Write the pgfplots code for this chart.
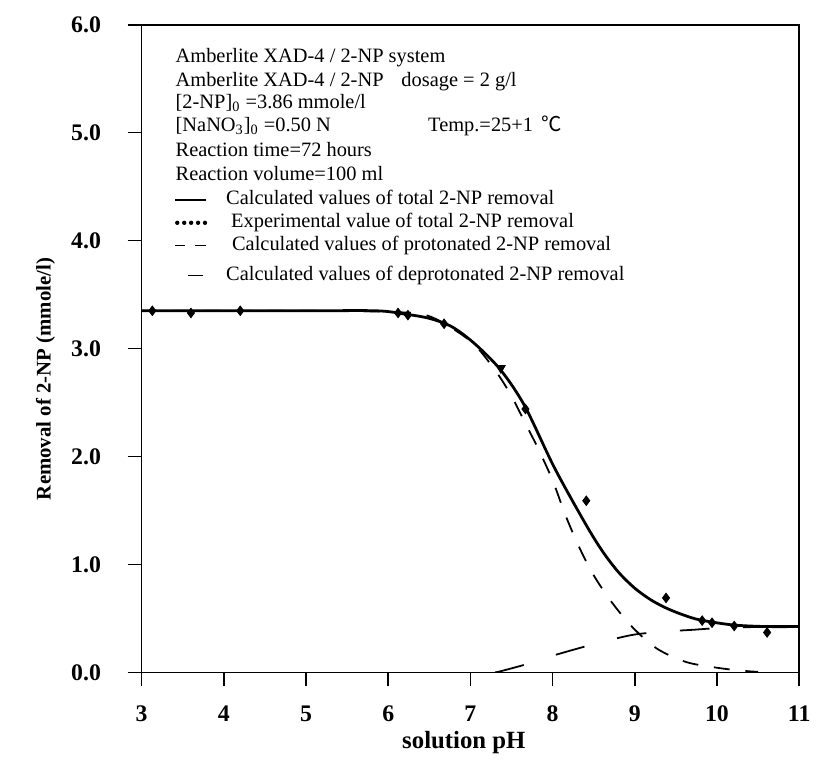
\documentclass[border=0pt]{standalone}
\usepackage{fontspec}
\setmainfont{Liberation Serif}
\newfontfamily\cjk{Noto Sans CJK SC}
\usepackage{pgfplots}
\pgfplotsset{compat=1.18}

\begin{document}
\begin{tikzpicture}
\begin{axis}[
    scale only axis,
    width=332pt, height=327pt,
    xmin=3, xmax=11, ymin=0, ymax=6,
    xtick={3,4,...,11}, ytick={0,1,...,6},
    tick pos=left,
    tick align=outside,
    major tick length=7pt,
    axis line style={line width=0.8pt},
    every tick/.style={line width=0.8pt, black},
    /pgf/number format/assume math mode=true,
    ticklabel style={font=\bfseries\fontsize{12}{14}\selectfont},
    yticklabel style={xshift=-10pt, /pgf/number format/.cd, fixed, fixed zerofill, precision=1},
    xticklabel style={yshift=-6.5pt},
    xlabel={solution pH},
    ylabel={Removal of 2-NP (mmole/l)},
    every axis x label/.style={at={(axis description cs:0.49,-0.108)}, anchor=center, font=\bfseries\fontsize{12.5}{14}\selectfont},
    every axis y label/.style={at={(axis description cs:-0.146,0.453)}, anchor=center, rotate=90, font=\bfseries\fontsize{10.5}{12}\selectfont},
    clip=true,
]
% calculated total removal
\addplot[black, line width=1.4pt, smooth] coordinates {
    (3.0,3.35)(4.0,3.35)(5.0,3.35)(5.86,3.35)(6.2,3.32)(6.5,3.28)(6.78,3.20)
    (7.06,3.04)(7.37,2.80)(7.66,2.47)(8.02,1.90)(8.39,1.39)(8.6,1.13)(8.8,0.93)
    (9.0,0.78)(9.2,0.67)(9.4,0.59)(9.6,0.53)(9.8,0.485)(10.19,0.44)(10.59,0.425)(11.0,0.425)
};
% calculated protonated removal
\addplot[black, line width=0.9pt, dash pattern=on 8pt off 8pt, smooth] coordinates {
    (3.0,3.35)(5.0,3.35)(6.0,3.34)(6.5,3.30)(7.0,3.07)(7.3,2.80)(7.5,2.56)
    (7.66,2.32)(7.82,2.08)(8.0,1.78)(8.16,1.45)(8.33,1.15)(8.5,0.90)
    (8.71,0.66)(8.97,0.42)(9.27,0.22)(9.63,0.095)(10.03,0.04)(10.35,0.013)(10.5,0.005)
};
% calculated deprotonated removal
\addplot[black, line width=0.9pt, dash pattern=on 15pt off 17pt, smooth] coordinates {
    (7.3,0.0)(7.38,0.013)(7.7,0.08)(7.98,0.15)(8.3,0.22)(8.59,0.28)(8.99,0.35)
    (9.39,0.38)(9.71,0.395)(10.0,0.41)(10.43,0.42)(10.6,0.42)
};
% experimental values
\addplot[only marks, mark=diamond*, mark size=2.4pt, black] coordinates {
    (3.13,3.35)(3.6,3.33)(4.2,3.35)(6.12,3.33)(6.24,3.31)(6.68,3.23)
    (7.67,2.44)(8.41,1.59)(9.38,0.69)(9.82,0.48)(9.94,0.46)(10.21,0.43)(10.61,0.37)
};
\addplot[only marks, mark=triangle*, mark size=2.6pt, black, mark options={rotate=180}] coordinates {
    (7.37,2.82)
};
\coordinate (nw) at (rel axis cs:0,1);
\coordinate (sw) at (rel axis cs:0,0);
\coordinate (ne) at (rel axis cs:1,1);
\end{axis}
\begin{scope}[font=\fontsize{10.3}{12}\selectfont]
\node[anchor=base west, inner sep=0pt] at ([shift={(17pt,-19pt)}]nw) {Amberlite XAD-4 / 2-NP system};
\node[anchor=base west, inner sep=0pt] at ([shift={(17pt,-31pt)}]nw) {Amberlite XAD-4 / 2-NP};
\node[anchor=base west, inner sep=0pt] at ([shift={(131pt,-31pt)}]nw) {dosage = 2 g/l};
\node[anchor=base west, inner sep=0pt] at ([shift={(17pt,-42.5pt)}]nw) {[2-NP]\textsubscript{0} =3.86 mmole/l};
\node[anchor=base west, inner sep=0pt] at ([shift={(17pt,-54pt)}]nw) {[NaNO\textsubscript{3}]\textsubscript{0} =0.50 N};
\node[anchor=base west, inner sep=0pt] at ([shift={(144.5pt,-54pt)}]nw) {Temp.=25+1 \,{\cjk ℃}};
\node[anchor=base west, inner sep=0pt] at ([shift={(17pt,-66.5pt)}]nw) {Reaction time=72 hours};
\node[anchor=base west, inner sep=0pt] at ([shift={(17pt,-78.5pt)}]nw) {Reaction volume=100 ml};
\node[anchor=base west, inner sep=0pt] at ([shift={(42.5pt,-91pt)}]nw) {Calculated values of total 2-NP removal};
\node[anchor=base west, inner sep=0pt] at ([shift={(45pt,-102.5pt)}]nw) {Experimental value of total 2-NP removal};
\node[anchor=base west, inner sep=0pt] at ([shift={(45.5pt,-114pt)}]nw) {Calculated values of protonated 2-NP removal};
\node[anchor=base west, inner sep=0pt] at ([shift={(42.5pt,-129pt)}]nw) {Calculated values of deprotonated 2-NP removal};
\end{scope}
\draw[line width=0.6pt] ([shift={(17pt,-88.5pt)}]nw) -- ++(15.5pt,0);
\foreach \i in {0,...,4} {
  \fill ([shift={(18pt+\i*3.5pt,-100pt)}]nw) circle (1.1pt);
}
\draw[line width=0.6pt] ([shift={(17pt,-111.5pt)}]nw) -- ++(5pt,0) ++(5pt,0) -- ++(5.5pt,0);
\draw[line width=0.6pt] ([shift={(23.5pt,-126.5pt)}]nw) -- ++(7.5pt,0);
\path ([shift={(-71.5pt,-36pt)}]sw) rectangle ([shift={(5pt,12.5pt)}]ne);
\end{tikzpicture}
\end{document}
